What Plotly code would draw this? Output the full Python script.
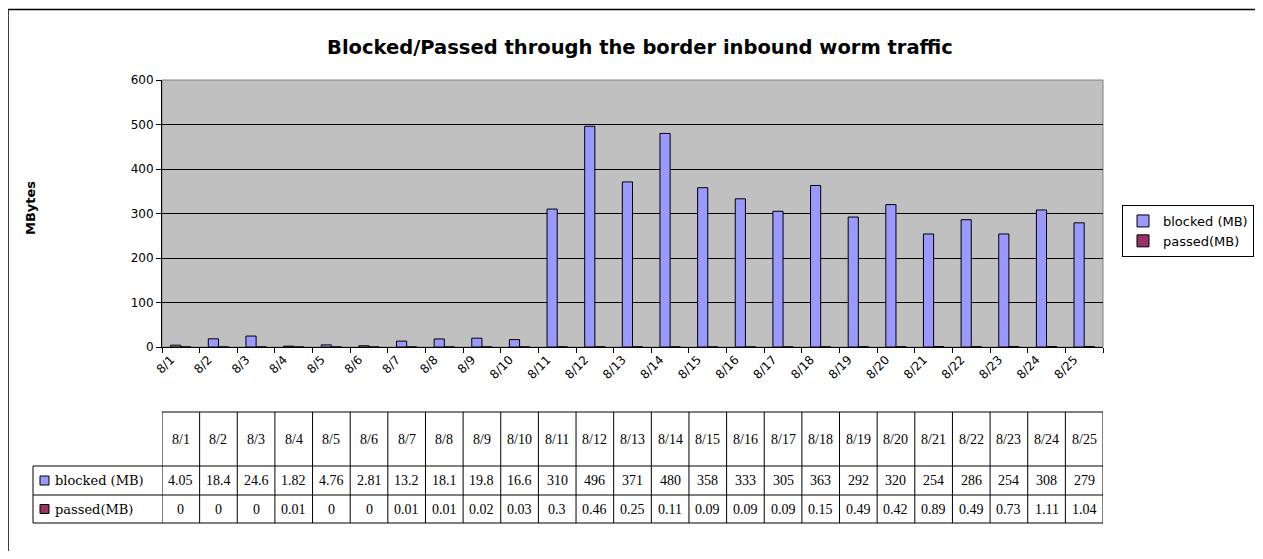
import plotly.graph_objects as go

categories = ["8/1", "8/2", "8/3", "8/4", "8/5", "8/6", "8/7", "8/8", "8/9", "8/10",
              "8/11", "8/12", "8/13", "8/14", "8/15", "8/16", "8/17", "8/18", "8/19",
              "8/20", "8/21", "8/22", "8/23", "8/24", "8/25"]
blocked = [4.05, 18.4, 24.6, 1.82, 4.76, 2.81, 13.2, 18.1, 19.8, 16.6,
           310, 496, 371, 480, 358, 333, 305, 363, 292, 320, 254, 286, 254, 308, 279]
passed = [0, 0, 0, 0.01, 0, 0, 0.01, 0.01, 0.02, 0.03,
          0.3, 0.46, 0.25, 0.11, 0.09, 0.09, 0.09, 0.15, 0.49, 0.42, 0.89, 0.49, 0.73, 1.11, 1.04]
series_names = ["blocked (MB)", "passed(MB)"]
title_text = "Blocked/Passed through the border inbound worm traffic"
y_title = "MBytes"

# page body has an 8px margin; work in target (window) pixel coordinates
OFF = 8
W, H = 1263 - 2 * OFF, 559 - 2 * OFF
PLOT_L, PLOT_R, PLOT_T, PLOT_B = 162, 1103, 80, 347   # target pixels
L = PLOT_L - OFF
T = PLOT_T - OFF
PW = PLOT_R - PLOT_L
PH = PLOT_B - PLOT_T
R = W - L - PW
B = H - T - PH

def xp(px):
    return (px - PLOT_L) / PW

def yp(py):
    return (PLOT_B - py) / PH

SANS = "DejaVu Sans, Arial, sans-serif"
SERIF_NUM = "Liberation Serif, Times New Roman, serif"
SERIF_LBL = "DejaVu Serif, Liberation Serif, serif"
colors = ["#9999FF", "#993366"]

fig = go.Figure()
for name, vals, col in zip(series_names, [blocked, passed], colors):
    fig.add_trace(go.Bar(x=categories, y=vals, name=name,
                         marker=dict(color=col, line=dict(color="#000000", width=1))))

shapes = []
annotations = []

# outer chart frame
shapes.append(dict(type="rect", xref="paper", yref="paper",
                   x0=xp(8), x1=xp(1300), y0=yp(9.5), y1=yp(600),
                   line=dict(color="#000000", width=1.5), fillcolor="rgba(0,0,0,0)", layer="below"))
# plot area border (gray)
shapes.append(dict(type="rect", xref="paper", yref="paper", x0=0, x1=1, y0=0, y1=1,
                   line=dict(color="#808080", width=1), fillcolor="rgba(0,0,0,0)", layer="below"))

# data table
n = len(categories)
top, hdr_bot, r1_bot, r2_bot = 412, 466, 495, 523
label_left = 33
shapes.append(dict(type="line", xref="x", yref="paper", x0=-0.5, x1=n - 0.5,
                   y0=yp(top), y1=yp(top), line=dict(color="#000000", width=1)))
for yy in [hdr_bot, r1_bot, r2_bot]:
    shapes.append(dict(type="line", xref="paper", yref="paper", x0=xp(label_left), x1=1,
                       y0=yp(yy), y1=yp(yy), line=dict(color="#000000", width=1)))
shapes.append(dict(type="line", xref="paper", yref="paper", x0=xp(label_left), x1=xp(label_left),
                   y0=yp(hdr_bot), y1=yp(r2_bot), line=dict(color="#000000", width=1)))
for i in range(n + 1):
    shapes.append(dict(type="line", xref="x", yref="paper", x0=i - 0.5, x1=i - 0.5,
                       y0=yp(top), y1=yp(r2_bot), line=dict(color="#000000", width=1)))

row_centers = [(top + hdr_bot) / 2, (hdr_bot + r1_bot) / 2, (r1_bot + r2_bot) / 2]
for i, c in enumerate(categories):
    annotations.append(dict(x=i, y=yp(row_centers[0]), xref="x", yref="paper", text=c,
                            xanchor="center", yanchor="middle", showarrow=False,
                            font=dict(family=SERIF_NUM, size=14, color="#000")))
    for r, vals in enumerate([blocked, passed]):
        annotations.append(dict(x=i, y=yp(row_centers[r + 1]), xref="x", yref="paper",
                                text=f"{vals[i]:g}", showarrow=False,
                                xanchor="center", yanchor="middle",
                                font=dict(family=SERIF_NUM, size=14, color="#000")))
for r, (name, col) in enumerate(zip(series_names, colors)):
    yc = row_centers[r + 1]
    shapes.append(dict(type="rect", xref="paper", yref="paper",
                       x0=xp(40), x1=xp(49), y0=yp(yc - 4.5), y1=yp(yc + 4.5),
                       fillcolor=col, line=dict(color="#000000", width=1)))
    annotations.append(dict(x=xp(53), y=yp(yc), xref="paper", yref="paper", text=name,
                            xanchor="left", yanchor="middle", showarrow=False,
                            font=dict(family=SERIF_LBL, size=13, color="#000")))

# y axis title
annotations.append(dict(x=xp(30), y=yp(208), xref="paper", yref="paper", text=f"<b>{y_title}</b>",
                        textangle=-90, xanchor="center", yanchor="middle", showarrow=False,
                        font=dict(family=SANS, size=13, color="#000")))

fig.update_layout(
    width=W, height=H,
    margin=dict(l=L, r=R, t=T, b=B, autoexpand=False),
    paper_bgcolor="#FFFFFF",
    plot_bgcolor="#C0C0C0",
    title=dict(text=f"<b>{title_text}</b>", x=(640 - OFF) / W, xanchor="center",
               y=1 - (47 - OFF) / H, yanchor="middle", yref="container",
               font=dict(family=SANS, size=19.5, color="#000")),
    barmode="group", bargap=0.46, bargroupgap=0,
    showlegend=True,
    legend=dict(x=xp(1122), y=yp(205), xanchor="left", yanchor="top",
                bordercolor="#000000", borderwidth=1, bgcolor="#FFFFFF",
                font=dict(family=SANS, size=13, color="#000"),
                itemwidth=30, tracegroupgap=2),
    xaxis=dict(type="category", range=[-0.5, n - 0.5], tickangle=-45,
               tickson="boundaries", ticks="outside", ticklen=5, tickcolor="#000",
               showline=True, linecolor="#000", linewidth=1, showgrid=False,
               ticklabelshift=-10,
               tickfont=dict(family=SANS, size=12, color="#000"), fixedrange=True),
    yaxis=dict(range=[0, 600], dtick=100, ticks="outside", ticklen=5, tickcolor="#000",
               showline=True, linecolor="#000", linewidth=1,
               showgrid=True, gridcolor="#000000", gridwidth=1, zeroline=False,
               tickfont=dict(family=SANS, size=12, color="#000"), fixedrange=True),
    shapes=shapes,
    annotations=annotations,
)

fig.write_html("out.html")
